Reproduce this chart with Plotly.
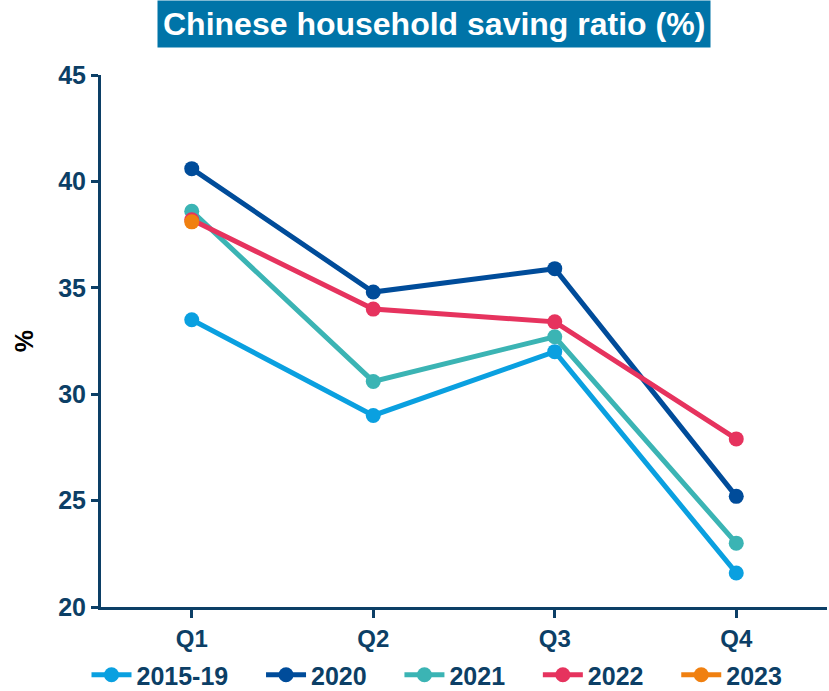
import plotly.graph_objects as go

quarters = ["Q1", "Q2", "Q3", "Q4"]

series_names = ["2015-19", "2020", "2021", "2022", "2023"]
s_2015_19 = [33.5, 29.0, 32.0, 21.6]
s_2020 = [40.6, 34.8, 35.9, 25.2]
s_2021 = [38.6, 30.6, 32.7, 23.0]
s_2022 = [38.2, 34.0, 33.4, 27.9]
s_2023 = [38.1]

series_values = [s_2015_19, s_2020, s_2021, s_2022, s_2023]
series_colors = ["#0AA0E0", "#004C9A", "#3BB4B4", "#E6335E", "#F08010"]

y_ticks = [20, 25, 30, 35, 40, 45]

NAVY = "#0C3F66"
FONT = "Liberation Sans, Arial, sans-serif"

L, R, T, B = 101, 2, 75, 84
W, H = 829, 691
PW = W - L - R

# extra spacing between horizontal legend entries
PAD = "\u00a0" * 4

fig = go.Figure()
for i, (name, vals, col) in enumerate(zip(series_names, series_values, series_colors)):
    label = name + (PAD if i < len(series_names) - 1 else "")
    fig.add_trace(go.Scatter(
        x=quarters[:len(vals)], y=vals, name=label,
        mode="lines+markers",
        line=dict(color=col, width=5),
        marker=dict(color=col, size=15),
    ))

fig.update_layout(
    width=W, height=H,
    margin=dict(l=L, r=R, t=T, b=B, autoexpand=False),
    plot_bgcolor="white", paper_bgcolor="white",
    font=dict(family=FONT, color=NAVY),
    showlegend=True,
    legend=dict(
        orientation="h", x=(437 - L) / PW, xanchor="center",
        yref="container", y=(H - 675) / H, yanchor="middle",
        font=dict(family=FONT, size=25, color=NAVY, weight="bold"),
        itemwidth=40, tracegroupgap=0,
        bgcolor="rgba(0,0,0,0)",
    ),
    xaxis=dict(
        type="category", range=[-0.5, 3.5],
        showline=True, linecolor=NAVY, linewidth=3,
        ticks="outside", ticklen=8, tickwidth=2.5, tickcolor=NAVY,
        tickfont=dict(family=FONT, size=24, color=NAVY, weight="bold"),
        showgrid=False, zeroline=False,
    ),
    yaxis=dict(
        range=[20, 45], tickvals=y_ticks,
        showline=True, linecolor=NAVY, linewidth=3,
        ticks="outside", ticklen=7, tickwidth=2.5, tickcolor=NAVY,
        tickfont=dict(family=FONT, size=25, color=NAVY, weight="bold"),
        showgrid=False, zeroline=False,
        title=dict(text="%", font=dict(family=FONT, size=25, color="black", weight="bold"), standoff=18),
    ),
    annotations=[dict(
        text="<b>Chinese household saving ratio (%)</b>",
        xref="paper", yref="paper",
        x=(434 - L) / (W - L - R), y=(H - 24 - B) / (H - T - B),
        xanchor="center", yanchor="middle",
        showarrow=False,
        font=dict(family=FONT, size=32, color="white"),
        bgcolor="#0074A8", borderpad=5,
    )],
)

fig.write_html("out.html")
